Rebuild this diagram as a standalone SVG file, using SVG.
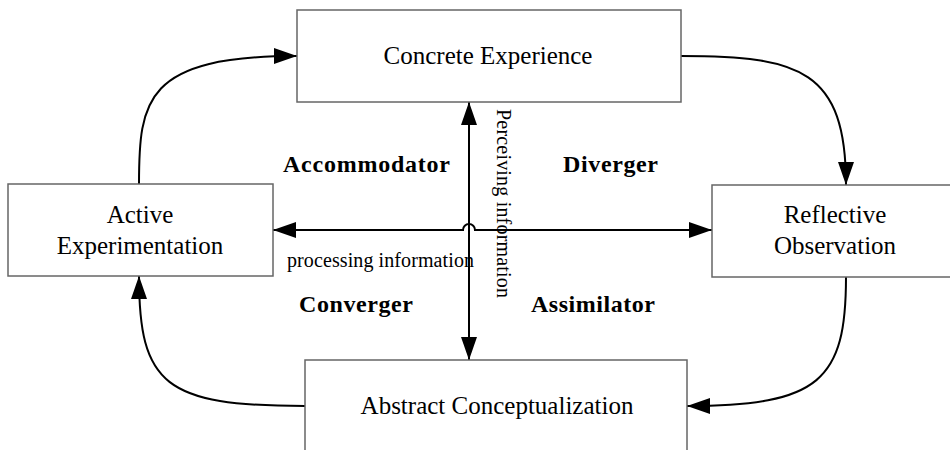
<svg xmlns="http://www.w3.org/2000/svg" width="950" height="450" viewBox="0 0 950 450">
<style>
.box{fill:#fff;stroke:#666;stroke-width:1.5}
.lbl{font-family:"Liberation Serif","Times New Roman",serif;font-size:25px;fill:#000;text-anchor:middle}
.quad{font-family:"Liberation Serif","Times New Roman",serif;font-size:24px;font-weight:bold;fill:#000}
.axis{font-family:"Liberation Serif","Times New Roman",serif;font-size:20px;fill:#000}
.conn{fill:none;stroke:#000;stroke-width:2}
</style>
<defs>
<marker id="ah" markerUnits="userSpaceOnUse" markerWidth="23" markerHeight="16" refX="23" refY="8" orient="auto">
<path d="M0,0 L23,8 L0,16 z" fill="#000"/>
</marker>
<marker id="ahs" markerUnits="userSpaceOnUse" markerWidth="23" markerHeight="16" refX="23" refY="8" orient="auto-start-reverse">
<path d="M0,0 L23,8 L0,16 z" fill="#000"/>
</marker>
</defs>
<rect width="950" height="450" fill="#fff"/>
<g id="connectors">
<path class="conn" d="M139,184 C139,100 145,56 297,56" marker-end="url(#ah)"/>
<path class="conn" d="M681,56 C800,56 846,70 846,185" marker-end="url(#ah)"/>
<path class="conn" d="M846,277 C846,380 820,406 687,406" marker-end="url(#ah)"/>
<path class="conn" d="M305,406 C165,406 139,385 139,276" marker-end="url(#ah)"/>
<path class="conn" d="M469,102 L469,360" marker-start="url(#ahs)" marker-end="url(#ah)"/>
<path class="conn" d="M273,230 L463,230 A6,6 0 0 1 475,230 L712,230" marker-start="url(#ahs)" marker-end="url(#ah)"/>
</g>
<g id="concrete-experience">
<rect class="box" x="297" y="10" width="384" height="92"/>
<text class="lbl" x="488" y="64">Concrete Experience</text>
</g>
<g id="active-experimentation">
<rect class="box" x="8" y="184" width="265" height="92"/>
<text class="lbl" x="140" y="223">Active</text>
<text class="lbl" x="140" y="254">Experimentation</text>
</g>
<g id="reflective-observation">
<rect class="box" x="712" y="185" width="260" height="92"/>
<text class="lbl" x="835" y="223">Reflective</text>
<text class="lbl" x="835" y="254">Observation</text>
</g>
<g id="abstract-conceptualization">
<rect class="box" x="305" y="360" width="382" height="110"/>
<text class="lbl" x="497" y="414">Abstract Conceptualization</text>
</g>
<g id="labels">
<text class="quad" x="283" y="172" textLength="167" lengthAdjust="spacing">Accommodator</text>
<text class="quad" x="563" y="172" textLength="95" lengthAdjust="spacing">Diverger</text>
<text class="quad" x="299" y="312" textLength="114" lengthAdjust="spacing">Converger</text>
<text class="quad" x="531" y="312" textLength="124" lengthAdjust="spacing">Assimilator</text>
<text class="axis" x="287" y="267" textLength="187" lengthAdjust="spacing">processing information</text>
<text class="axis" transform="translate(497,109) rotate(90)" textLength="189" lengthAdjust="spacing">Perceiving information</text>
</g>
</svg>
